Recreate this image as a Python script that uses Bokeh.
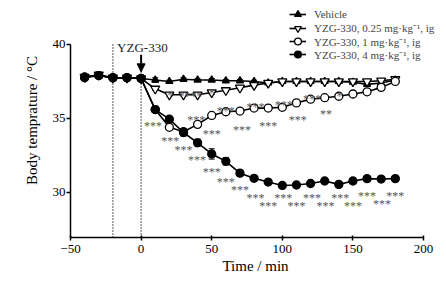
from bokeh.plotting import figure
from bokeh.models import Range1d, Legend, LegendItem, Arrow, NormalHead, Whisker, ColumnDataSource, FixedTicker, Label
from bokeh.core.properties import value
from bokeh.embed import file_html
from bokeh.resources import INLINE

# ---- data ----
time = [-40, -30, -20, -10, 0, 10, 20, 30, 40, 50, 60, 70, 80, 90, 100,
        110, 120, 130, 140, 150, 160, 170, 180]
vehicle = [37.8, 37.9, 37.75, 37.75, 37.7, 37.6, 37.5, 37.65, 37.6, 37.6, 37.55, 37.55,
           37.5, 37.4, 37.5, 37.5, 37.5, 37.5, 37.5, 37.45, 37.3, 37.4, 37.6]
dose_025 = [37.8, 37.95, 37.75, 37.75, 37.7, 37.0, 36.6, 36.6, 36.6, 36.75, 36.9, 37.07,
            37.25, 37.4, 37.5, 37.5, 37.5, 37.5, 37.5, 37.5, 37.5, 37.55, 37.65]
dose_1 = [37.8, 37.9, 37.75, 37.75, 37.7, 35.6, 34.4, 34.1, 34.6, 35.2, 35.45, 35.5,
          35.7, 35.7, 35.75, 36.05, 36.3, 36.4, 36.5, 36.65, 36.8, 37.1, 37.5]
dose_4 = [37.75, 37.9, 37.75, 37.75, 37.7, 35.6, 34.95, 34.05, 33.35, 32.6, 32.1, 31.3,
          30.95, 30.7, 30.47, 30.5, 30.6, 30.77, 30.54, 30.77, 30.93, 30.9, 30.93]
sem_vehicle = [0.05, 0.05, 0.05, 0.05, 0.05, 0.15, 0.08, 0.1, 0.08, 0.1, 0.08, 0.08,
               0.08, 0.08, 0.08, 0.08, 0.08, 0.08, 0.08, 0.1, 0.15, 0.1, 0.1]
sem_025 = [0.05, 0.05, 0.05, 0.05, 0.05, 0.1, 0.1, 0.1, 0.1, 0.1, 0.1, 0.1,
           0.1, 0.1, 0.1, 0.1, 0.1, 0.1, 0.1, 0.12, 0.12, 0.15, 0.15]
sem_1 = [0.05, 0.05, 0.05, 0.05, 0.05, 0.15, 0.15, 0.2, 0.15, 0.15, 0.15, 0.12,
         0.15, 0.12, 0.12, 0.12, 0.12, 0.1, 0.12, 0.15, 0.1, 0.1, 0.1]
sem_4 = [0.05, 0.05, 0.05, 0.05, 0.05, 0.15, 0.2, 0.25, 0.25, 0.35, 0.25, 0.2,
         0.15, 0.12, 0.12, 0.1, 0.1, 0.12, 0.1, 0.15, 0.15, 0.15, 0.15]

labels = ["Vehicle", "YZG-330, 0.25 mg\u00b7kg\u207b\u00b9, ig",
          "YZG-330, 1 mg\u00b7kg\u207b\u00b9, ig", "YZG-330, 4 mg\u00b7kg\u207b\u00b9, ig"]

star_text = ["*", "****", "*",
             "***", "***", "***", "***", "***", "*",
             "***", "***", "***", "***", "**",
             "***", "***", "***", "***", "***", "***", "***", "***", "***",
             "***", "***", "***", "***", "***", "***", "***", "***", "***"]
star_x = [20.5, 35, 50,
          39, 60, 81, 101, 121, 140.5,
          50, 71.5, 90, 111, 131,
          8.5, 20.6, 30, 39.5, 50, 60, 70, 81, 90,
          100.7, 110, 121, 130.5, 141, 150, 160, 170.6, 180]
star_y = [37.0, 36.96, 37.15,
          35.35, 35.93, 36.18, 36.33, 36.78, 36.98,
          34.37, 34.66, 34.93, 35.3, 35.77,
          34.96, 33.9, 33.3, 32.6, 31.8, 31.17, 30.63, 30.09, 29.5,
          30.09, 29.5, 30.09, 29.53, 30.09, 29.53, 30.2, 29.64, 30.2]

marker_line = [-20, 0]
x_ticks = [-50, 0, 50, 100, 150, 200]
y_ticks = [30, 35, 40]

SERIF = "Liberation Serif"

p = figure(frame_width=370, frame_height=234, output_backend="svg", toolbar_location=None,
           x_range=Range1d(-50, 212), y_range=Range1d(26.95, 42.77),
           min_border_left=70, min_border_right=0, min_border_top=3, min_border_bottom=42)
p.outline_line_color = None
p.grid.visible = False
p.background_fill_color = "white"

for ax in (p.xaxis, p.yaxis):
    ax.axis_line_width = 1.5
    ax.major_tick_line_width = 1.5
    ax.major_tick_out = 3
    ax.major_tick_in = 2
    ax.minor_tick_line_color = None
    ax.major_label_text_font = SERIF
    ax.major_label_text_font_size = "13px"
    ax.major_label_text_color = "black"
    ax.axis_label_text_font = SERIF
    ax.axis_label_text_font_size = "15px"
    ax.axis_label_text_font_style = "normal"
    ax.axis_label_text_color = "black"
p.yaxis.major_tick_in = 0
p.yaxis.major_tick_out = 4
p.xaxis.major_label_standoff = 4
p.yaxis.major_label_standoff = 1
p.xaxis.ticker = FixedTicker(ticks=x_ticks)
p.yaxis.ticker = FixedTicker(ticks=y_ticks)
p.xaxis.bounds = (-50, 200)
p.yaxis.bounds = (26.95, 40)
p.xaxis.axis_label = "Time / min"
p.yaxis.axis_label = "Body temprature / \u00b0C"
p.xaxis.axis_label_standoff = 2
p.yaxis.axis_label_standoff = 10

# dotted markers
p.segment(x0=marker_line, y0=[26.95, 26.95], x1=marker_line, y1=[40, 38.2],
          line_color="black", line_width=1.3, line_dash="1 2")
p.add_layout(Label(x=-17, y=39.78, text="YZG-330", text_font=SERIF, text_font_size="13px",
                   text_baseline="middle", text_align="left", text_color="#222222"))
p.add_layout(Arrow(end=NormalHead(size=8, fill_color="black", line_color="black"),
                   x_start=0, y_start=39.3, x_end=0, y_end=38.15, line_width=2, line_color="black"))

series = [vehicle, dose_025, dose_1, dose_4]
sems = [sem_vehicle, sem_025, sem_1, sem_4]
styles = [dict(marker="triangle", size=7, fill_color="black"),
          dict(marker="inverted_triangle", size=9, fill_color="white"),
          dict(marker="circle", size=8, fill_color="white"),
          dict(marker="circle", size=8, fill_color="black")]

items = []
for ys, es, st, lab in zip(series, sems, styles, labels):
    src = ColumnDataSource(dict(x=time, y=ys, lo=[a - b for a, b in zip(ys, es)],
                                hi=[a + b for a, b in zip(ys, es)]))
    w = Whisker(source=src, base="x", lower="lo", upper="hi", line_color="black", line_width=1)
    w.upper_head.size = 6
    w.lower_head.size = 6
    w.upper_head.line_width = 1
    w.lower_head.line_width = 1
    p.add_layout(w)
    ln = p.line("x", "y", source=src, line_color="black", line_width=1.6)
    sc = p.scatter("x", "y", source=src, marker=st["marker"], size=st["size"],
                   fill_color=st["fill_color"], line_color="black", line_width=1.3)
    items.append(LegendItem(label=lab, renderers=[ln, sc]))

p.text(x=star_x, y=star_y, text=star_text, text_font=value(SERIF), text_font_size="12px",
       text_color="#555555", text_align="center", text_baseline="alphabetic", y_offset=6.5)

# one legend per row so the row pitch matches the reference (screen px from frame bottom-left)
row_vy = [212.7, 199.3, 186, 172.7]
for it, vy in zip(items, row_vy):
    lg = Legend(items=[it], location=(219, vy), padding=0, margin=0, spacing=0,
                glyph_width=17, glyph_height=20, label_height=20, label_standoff=8,
                label_text_font=SERIF, label_text_font_size="11px",
                border_line_color=None, background_fill_alpha=0)
    p.add_layout(lg, "center")

open("out.html", "w").write(file_html(p, INLINE))
